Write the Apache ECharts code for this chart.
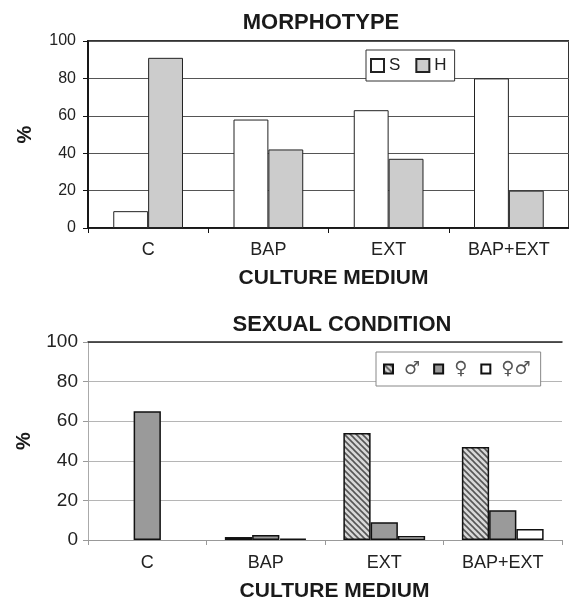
<!DOCTYPE html>
<html>
<head>
<meta charset="utf-8">
<script src="https://cdn.jsdelivr.net/npm/echarts@6/dist/echarts.min.js"></script>
<style>
html,body{margin:0;padding:0;background:#fff;}
#chart{width:569px;height:603px;}
</style>
</head>
<body>
<div id="chart"></div>
<script>
// ---- data ----
const categories = ['C', 'BAP', 'EXT', 'BAP+EXT'];
const morphNames = ['S', 'H'];
const morphS = [9, 58, 63, 80];
const morphH = [91, 42, 37, 20];
const sexNames = ['♂', '♀', '♀♂'];
const sexMale = [0, 1.5, 54, 47];
const sexFemale = [65, 2.5, 9, 15];
const sexHerm = [0, 0.7, 2, 5.5];
const yMin = 0, yMax = 100, yStep = 20;
const titleTop = 'MORPHOTYPE';
const titleBottom = 'SEXUAL CONDITION';
const xName = 'CULTURE MEDIUM';
const yName = '%';

// zero values are drawn as no bar at all (as in the original)
const noZero = arr => arr.map(v => (v === 0 ? '-' : v));

// hatch pattern for ♂
function hatch() {
  const s = 6;
  const c = document.createElement('canvas');
  c.width = s; c.height = s;
  const g = c.getContext('2d');
  g.fillStyle = '#d8d8d8';
  g.fillRect(0, 0, s, s);
  g.strokeStyle = '#555';
  g.lineWidth = 1.6;
  for (const k of [-s, 0, s]) {
    g.beginPath();
    g.moveTo(-1, k - 1);
    g.lineTo(s + 1, s + k + 1);
    g.stroke();
  }
  return c;
}
const hatchFill = { image: hatch(), repeat: 'repeat' };

const font = '"Liberation Sans", Arial, sans-serif';
const chart = echarts.init(document.getElementById('chart'), null, { renderer: 'canvas' });

chart.setOption({
  animation: false,
  backgroundColor: '#fff',
  textStyle: { fontFamily: font },
  graphic: [
    { type: 'text', x: 321, y: 23, style: { text: titleTop, font: 'bold 22px ' + font, fill: '#1a1a1a', align: 'center', verticalAlign: 'middle', textAlign: 'center', textVerticalAlign: 'middle' } },
    { type: 'text', x: 342, y: 325, style: { text: titleBottom, font: 'bold 22px ' + font, fill: '#1a1a1a', align: 'center', verticalAlign: 'middle', textAlign: 'center', textVerticalAlign: 'middle' } }
  ],
  grid: [
    { left: 88, top: 41, width: 481, height: 187, show: true, borderColor: '#333', borderWidth: 2, backgroundColor: 'transparent' },
    { left: 88, top: 342, width: 474, height: 200, show: false }
  ],
  legend: [
    {
      data: morphNames, left: 366, top: 50, orient: 'horizontal',
      itemWidth: 13, itemHeight: 13, itemGap: 15, icon: 'rect',
      padding: [7, 8, 7, 4],
      backgroundColor: '#fff', borderColor: '#333', borderWidth: 1,
      textStyle: { fontSize: 17, color: '#222', fontFamily: font },
      selectedMode: false
    },
    {
      data: sexNames, left: 376, top: 352, orient: 'horizontal',
      itemWidth: 9, itemHeight: 9, itemGap: 13, icon: 'rect',
      padding: [8, 10, 8, 7],
      backgroundColor: '#fff', borderColor: '#888', borderWidth: 1,
      itemStyle: { borderWidth: 2, borderColor: '#111' },
      textStyle: { fontSize: 18, color: '#555', fontFamily: '"DejaVu Sans", sans-serif', padding: [0, 0, 0, 6] },
      selectedMode: false
    }
  ],
  xAxis: [
    {
      gridIndex: 0, type: 'category', data: categories,
      axisLine: { lineStyle: { color: '#111', width: 1.5 } },
      axisTick: { show: true, length: 5, lineStyle: { color: '#111' } },
      axisLabel: { fontSize: 18, color: '#222', margin: 13 },
      name: xName, nameLocation: 'middle', nameGap: 40,
      nameTextStyle: { fontSize: 21, fontWeight: 'bold', color: '#1a1a1a', padding: [0, 0, 0, 10] }
    },
    {
      gridIndex: 1, type: 'category', data: categories,
      axisLine: { lineStyle: { color: '#999', width: 1 } },
      axisTick: { show: true, length: 5, lineStyle: { color: '#999' } },
      axisLabel: { fontSize: 18, color: '#222', margin: 14 },
      name: xName, nameLocation: 'middle', nameGap: 41,
      nameTextStyle: { fontSize: 21, fontWeight: 'bold', color: '#1a1a1a', padding: [0, 0, 0, 19] }
    },
    {
      gridIndex: 1, type: 'category', data: categories, position: 'top',
      axisLine: { lineStyle: { color: '#222', width: 1.5 } },
      axisTick: { show: false }, axisLabel: { show: false }
    }
  ],
  yAxis: [
    {
      gridIndex: 0, type: 'value', min: yMin, max: yMax, interval: yStep,
      axisLine: { show: true, lineStyle: { color: '#111', width: 1.5 } },
      axisTick: { show: true, length: 5, lineStyle: { color: '#111' } },
      axisLabel: { fontSize: 16, color: '#222', margin: 12 },
      splitLine: { show: true, lineStyle: { color: '#555', width: 1 } },
      name: yName, nameLocation: 'middle', nameGap: 53,
      nameTextStyle: { fontSize: 20, fontWeight: 'bold', color: '#1a1a1a' }
    },
    {
      gridIndex: 1, type: 'value', min: yMin, max: yMax, interval: yStep,
      axisLine: { show: true, lineStyle: { color: '#aaa', width: 1 } },
      axisTick: { show: true, length: 5, lineStyle: { color: '#999' } },
      axisLabel: { fontSize: 19, color: '#222', margin: 10 },
      splitLine: { show: true, lineStyle: { color: '#b5b5b5', width: 1 } },
      name: yName, nameLocation: 'middle', nameGap: 54,
      nameTextStyle: { fontSize: 20, fontWeight: 'bold', color: '#1a1a1a' }
    }
  ],
  series: [
    { name: morphNames[0], type: 'bar', xAxisIndex: 0, yAxisIndex: 0, data: morphS, barGap: '0%', barCategoryGap: '42%',
      itemStyle: { color: '#ffffff', borderColor: '#222', borderWidth: 1 } },
    { name: morphNames[1], type: 'bar', xAxisIndex: 0, yAxisIndex: 0, data: morphH, barGap: '0%', barCategoryGap: '42%',
      itemStyle: { color: '#cccccc', borderColor: '#222', borderWidth: 1 } },
    { name: sexNames[0], type: 'bar', xAxisIndex: 1, yAxisIndex: 1, data: noZero(sexMale), barGap: '0%', barCategoryGap: '31%',
      itemStyle: { color: hatchFill, borderColor: '#111', borderWidth: 1.5 } },
    { name: sexNames[1], type: 'bar', xAxisIndex: 1, yAxisIndex: 1, data: noZero(sexFemale), barGap: '0%', barCategoryGap: '31%',
      itemStyle: { color: '#9a9a9a', borderColor: '#111', borderWidth: 1.5 } },
    { name: sexNames[2], type: 'bar', xAxisIndex: 1, yAxisIndex: 1, data: noZero(sexHerm), barGap: '0%', barCategoryGap: '31%',
      itemStyle: { color: '#ffffff', borderColor: '#111', borderWidth: 1.5 } }
  ]
});
</script>
</body>
</html>
